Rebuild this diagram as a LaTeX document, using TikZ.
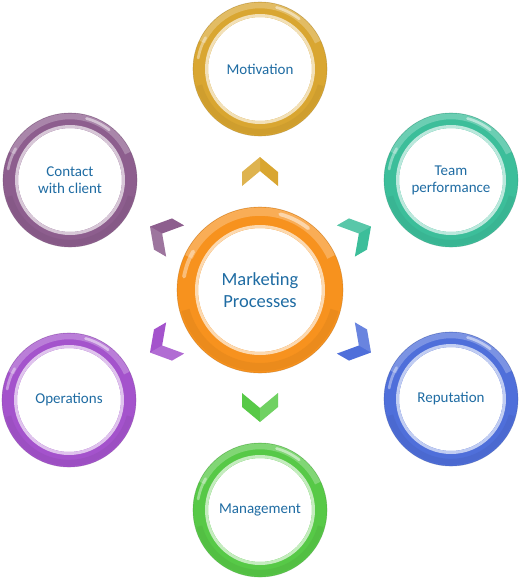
\documentclass[tikz,border=0pt]{standalone}
\usepackage{fontspec}
\setmainfont{Carlito}
\definecolor{txt}{HTML}{1F6CA3}
\definecolor{orangeC}{HTML}{F7921E}
\definecolor{goldC}{HTML}{D9A631}
\definecolor{tealC}{HTML}{3CBE9A}
\definecolor{blueC}{HTML}{4F6FDA}
\definecolor{greenC}{HTML}{57C947}
\definecolor{purpleC}{HTML}{A453CC}
\definecolor{plumC}{HTML}{8D5E8E}
\newcommand\ringfx[4]{%
  \pgfmathsetmacro\ringW{#3-#4}%
  \pgfmathsetmacro\ringA{#3-\ringW*0.28}%
  \pgfmathsetmacro\ringB{#3-\ringW*0.22}%
  \pgfmathsetmacro\glossW{\ringW*0.4}%
  \pgfmathsetmacro\specW{\ringW*0.18}%
  \draw[#2!75!black, opacity=.18, line width=\glossW pt]
    ([shift={(195:\ringA)}]#1.center) arc[start angle=195, end angle=345, radius=\ringA];
  \draw[white, opacity=.25, line width=\glossW pt]
    ([shift={(25:\ringB)}]#1.center) arc[start angle=25, end angle=155, radius=\ringB];
  \draw[white, opacity=.5, line width=\specW pt, line cap=round]
    ([shift={(52:\ringB)}]#1.center) arc[start angle=52, end angle=75, radius=\ringB];
  \draw[white, opacity=.4, line width=\specW pt, line cap=round]
    ([shift={(150:\ringA)}]#1.center) arc[start angle=150, end angle=170, radius=\ringA];
  \draw[#2!35!white, line width=3pt] (#1.center) circle (#4+1.5);
  \draw[#2!70!black, opacity=.4, line width=.6pt] (#1.center) circle (#3);
}
\tikzset{
  ring/.style={circle, draw=#1, fill=white, inner sep=0pt, align=center, text=txt},
  smallring/.style={minimum size=119pt, line width=15pt, font=\fontsize{15}{17}\selectfont},
  bigring/.style={minimum size=145pt, line width=21pt, font=\fontsize{18.5}{22}\selectfont},
  chev/.pic={
    \path[pic actions] (0,18) -- (15,0) -- (0,-18) -- (-14,-18) -- (1,0) -- (-14,18) -- cycle;
    \fill[white, opacity=.15] (0,18) -- (15,0) -- (1,0) -- (-14,18) -- cycle;
  }
}
\begin{document}
\begin{tikzpicture}[x=1pt,y=1pt]
\useasboundingbox (0,0) rectangle (520,-579);
% centre
\node[ring=orangeC, bigring] (mp) at (260,-290) {Marketing\\Processes};
% outer circles
\node[ring=goldC, smallring] (mot) at (260,-69) {Motivation};
\node[ring=plumC, smallring] (con) at (70,-180) {Contact\\with client};
\node[ring=tealC, smallring] (team) at (451,-180) {Team\\performance};
\node[ring=purpleC, smallring] (ops) at (69,-400) {Operations};
\node[ring=blueC, smallring] (rep) at (451,-399) {Reputation};
\node[ring=greenC, smallring] (man) at (260,-510) {Management};
\ringfx{mp}{orangeC}{83}{62}
\ringfx{mot}{goldC}{67}{52}
\ringfx{con}{plumC}{67}{52}
\ringfx{team}{tealC}{67}{52}
\ringfx{ops}{purpleC}{67}{52}
\ringfx{rep}{blueC}{67}{52}
\ringfx{man}{greenC}{67}{52}
% chevrons
\pic[fill=goldC, rotate=90] (chmot) at (260,-172) {chev};
\pic[fill=tealC, rotate=30] (chteam) at (358,-234) {chev};
\pic[fill=blueC, rotate=-30] (chrep) at (358,-345) {chev};
\pic[fill=greenC, rotate=-90] (chman) at (260,-407) {chev};
\pic[fill=purpleC, rotate=210] (chops) at (163,-345) {chev};
\pic[fill=plumC, rotate=150] (chcon) at (163,-234) {chev};
\end{tikzpicture}
\end{document}
